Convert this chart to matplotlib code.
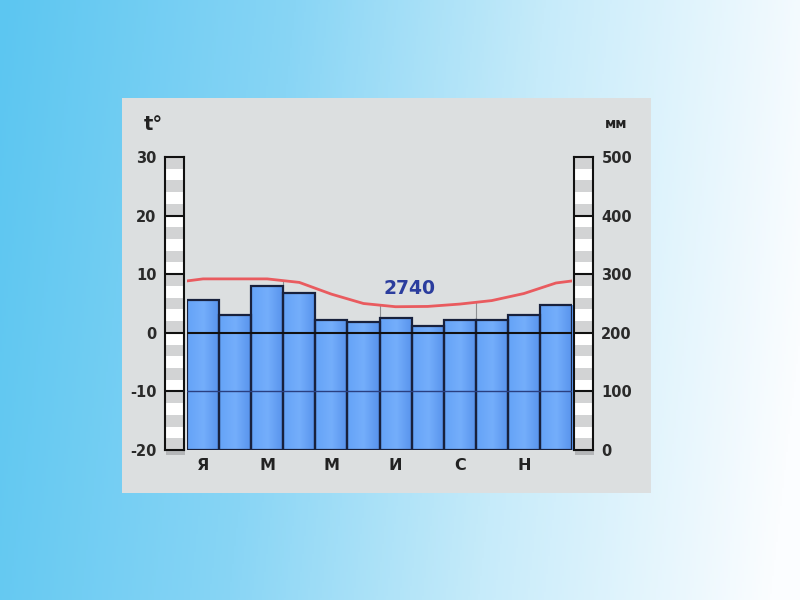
import numpy as np
import matplotlib
matplotlib.use('Agg')
import matplotlib.pyplot as plt
from matplotlib.patches import Rectangle
from matplotlib.colors import LinearSegmentedColormap

# ---------------- data ----------------
month_labels = ['Я', '', 'М', '', 'М', '', 'И', '', 'С', '', 'Н', '']
precip_mm = [256, 230, 280, 268, 222, 219, 225, 212, 222, 221, 230, 247]
temp_c = [9.2, 9.2, 9.2, 8.6, 6.6, 5.0, 4.45, 4.5, 4.9, 5.5, 6.7, 8.5]
annual_total_label = '2740'
temp_ticks = [-20, -10, 0, 10, 20, 30]
precip_ticks = [0, 100, 200, 300, 400, 500]
temp_unit = 't°'
precip_unit = 'мм'

W, H = 800, 600
fig = plt.figure(figsize=(8, 6), dpi=100)


def fx(px):
    return px / W


def fy(py):
    return 1 - py / H


# ---------------- background gradient ----------------
bg = fig.add_axes([0, 0, 1, 1], zorder=-10)
xx, yy = np.meshgrid(np.linspace(0, 1, 400), np.linspace(0, 1, 300))
t = np.clip(xx * 0.95 + yy * 0.08, 0, 1)
bg_cmap = LinearSegmentedColormap.from_list(
    'bg', [(0.0, '#5cc6f1'), (0.35, '#88d5f5'), (0.65, '#c6ebfa'), (1.0, '#fbfdff')])
bg.imshow(t, cmap=bg_cmap, extent=[0, 1, 0, 1], aspect='auto', origin='upper')
bg.set_xlim(0, 1)
bg.set_ylim(0, 1)
bg.axis('off')

# panel
fig.patches.append(Rectangle((fx(122), fy(493)), (651 - 122) / W, (493 - 98) / H,
                             transform=fig.transFigure, facecolor='#dcdfe0',
                             edgecolor='none', zorder=-5))

# ---------------- main axes ----------------
ax = fig.add_axes([fx(187), fy(450), 385 / W, 293 / H])
ax2 = ax.twinx()
ax.set_zorder(ax2.get_zorder() + 1)
ax.patch.set_visible(False)
ax2.patch.set_visible(False)

x = np.arange(len(precip_mm))
ax.set_xlim(-0.5, len(precip_mm) - 0.5)
ax.set_ylim(temp_ticks[0], temp_ticks[-1])
ax2.set_ylim(precip_ticks[0], precip_ticks[-1])

# bars with gradient fill
bar_cmap = LinearSegmentedColormap.from_list('bar', ['#64a3f7', '#74aefb', '#5792ec'])
bars = ax2.bar(x, precip_mm, width=1.0, facecolor='none', edgecolor='#18213d',
               linewidth=1.6, zorder=3)
grad = np.linspace(0, 1, 64).reshape(1, -1)
for b in bars:
    im = ax2.imshow(grad, cmap=bar_cmap, aspect='auto', zorder=2,
                    extent=[b.get_x(), b.get_x() + b.get_width(), 0, b.get_height()])
    im.set_clip_path(b)
ax2.set_xlim(-0.5, len(precip_mm) - 0.5)
ax2.set_ylim(precip_ticks[0], precip_ticks[-1])

# faint vertical season lines from bottom up to temperature curve
xe = np.r_[-1, x, len(x)]
te = np.r_[temp_c[-1], temp_c, temp_c[0]]
for xv in [2.5, 5.5, 8.5]:
    ax2.plot([xv, xv], [0, (np.interp(xv, xe, te) - temp_ticks[0]) * 10], color='#8c8f92',
             lw=0.8, zorder=1)

# temperature line
ax.plot(xe, te, color='#e95b5f', lw=2, zorder=5, solid_capstyle='butt')
ax.axhline(0, color='#111111', lw=1.5, zorder=4)
ax.axhline(-10, color='#2a3f80', lw=1.0, zorder=4)

ax.text(6.45, 7.5, annual_total_label, ha='center', va='center', fontsize=13.5,
        fontweight='bold', color='#2b3d9e', zorder=6)

ax.set_xticks(x)
ax.set_xticklabels(month_labels, fontsize=11.5, fontweight='bold', color='#222222')
ax.tick_params(axis='x', length=0, pad=6)
ax.set_yticks([])
ax2.set_yticks([])
for a in (ax, ax2):
    for s in a.spines.values():
        s.set_visible(False)


# ---------------- scale columns ----------------
def scale_column(left_px, ticks, side):
    cax = fig.add_axes([fx(left_px), fy(450), 19 / W, 293 / H])
    lo, hi = ticks[0], ticks[-1]
    step = (hi - lo) / 25.0
    cax.set_xlim(0, 1)
    cax.set_ylim(lo, hi)
    for i in range(25):
        y0 = lo + i * step
        cax.axhspan(y0, y0 + step, color='#d2d3d4' if i % 2 == 0 else '#ffffff', lw=0)
    for tv in ticks[1:-1]:
        cax.axhline(tv, color='#111111', lw=1.5)
    for s in cax.spines.values():
        s.set_color('#111111')
        s.set_linewidth(1.5)
    cax.set_xticks([])
    cax.set_yticks(ticks)
    cax.set_yticklabels([str(v) for v in ticks], fontsize=10.5, fontweight='bold',
                        color='#2a2a2a')
    if side == 'right':
        cax.yaxis.tick_right()
    cax.tick_params(axis='y', length=0, pad=6)
    # shadow beneath the column
    fig.patches.append(Rectangle((fx(left_px + 1), fy(455)), 19 / W, 5 / H,
                                 transform=fig.transFigure, facecolor='#9a9c9e',
                                 edgecolor='none', alpha=0.6, zorder=-4))
    return cax


scale_column(165, temp_ticks, 'left')
scale_column(574, precip_ticks, 'right')

fig.text(fx(153), fy(125), temp_unit, ha='center', va='center', fontsize=14,
         fontweight='bold', color='#222222')
fig.text(fx(616), fy(124), precip_unit, ha='center', va='center', fontsize=10,
         fontweight='bold', color='#222222')

fig.savefig('out.png', dpi=100)
